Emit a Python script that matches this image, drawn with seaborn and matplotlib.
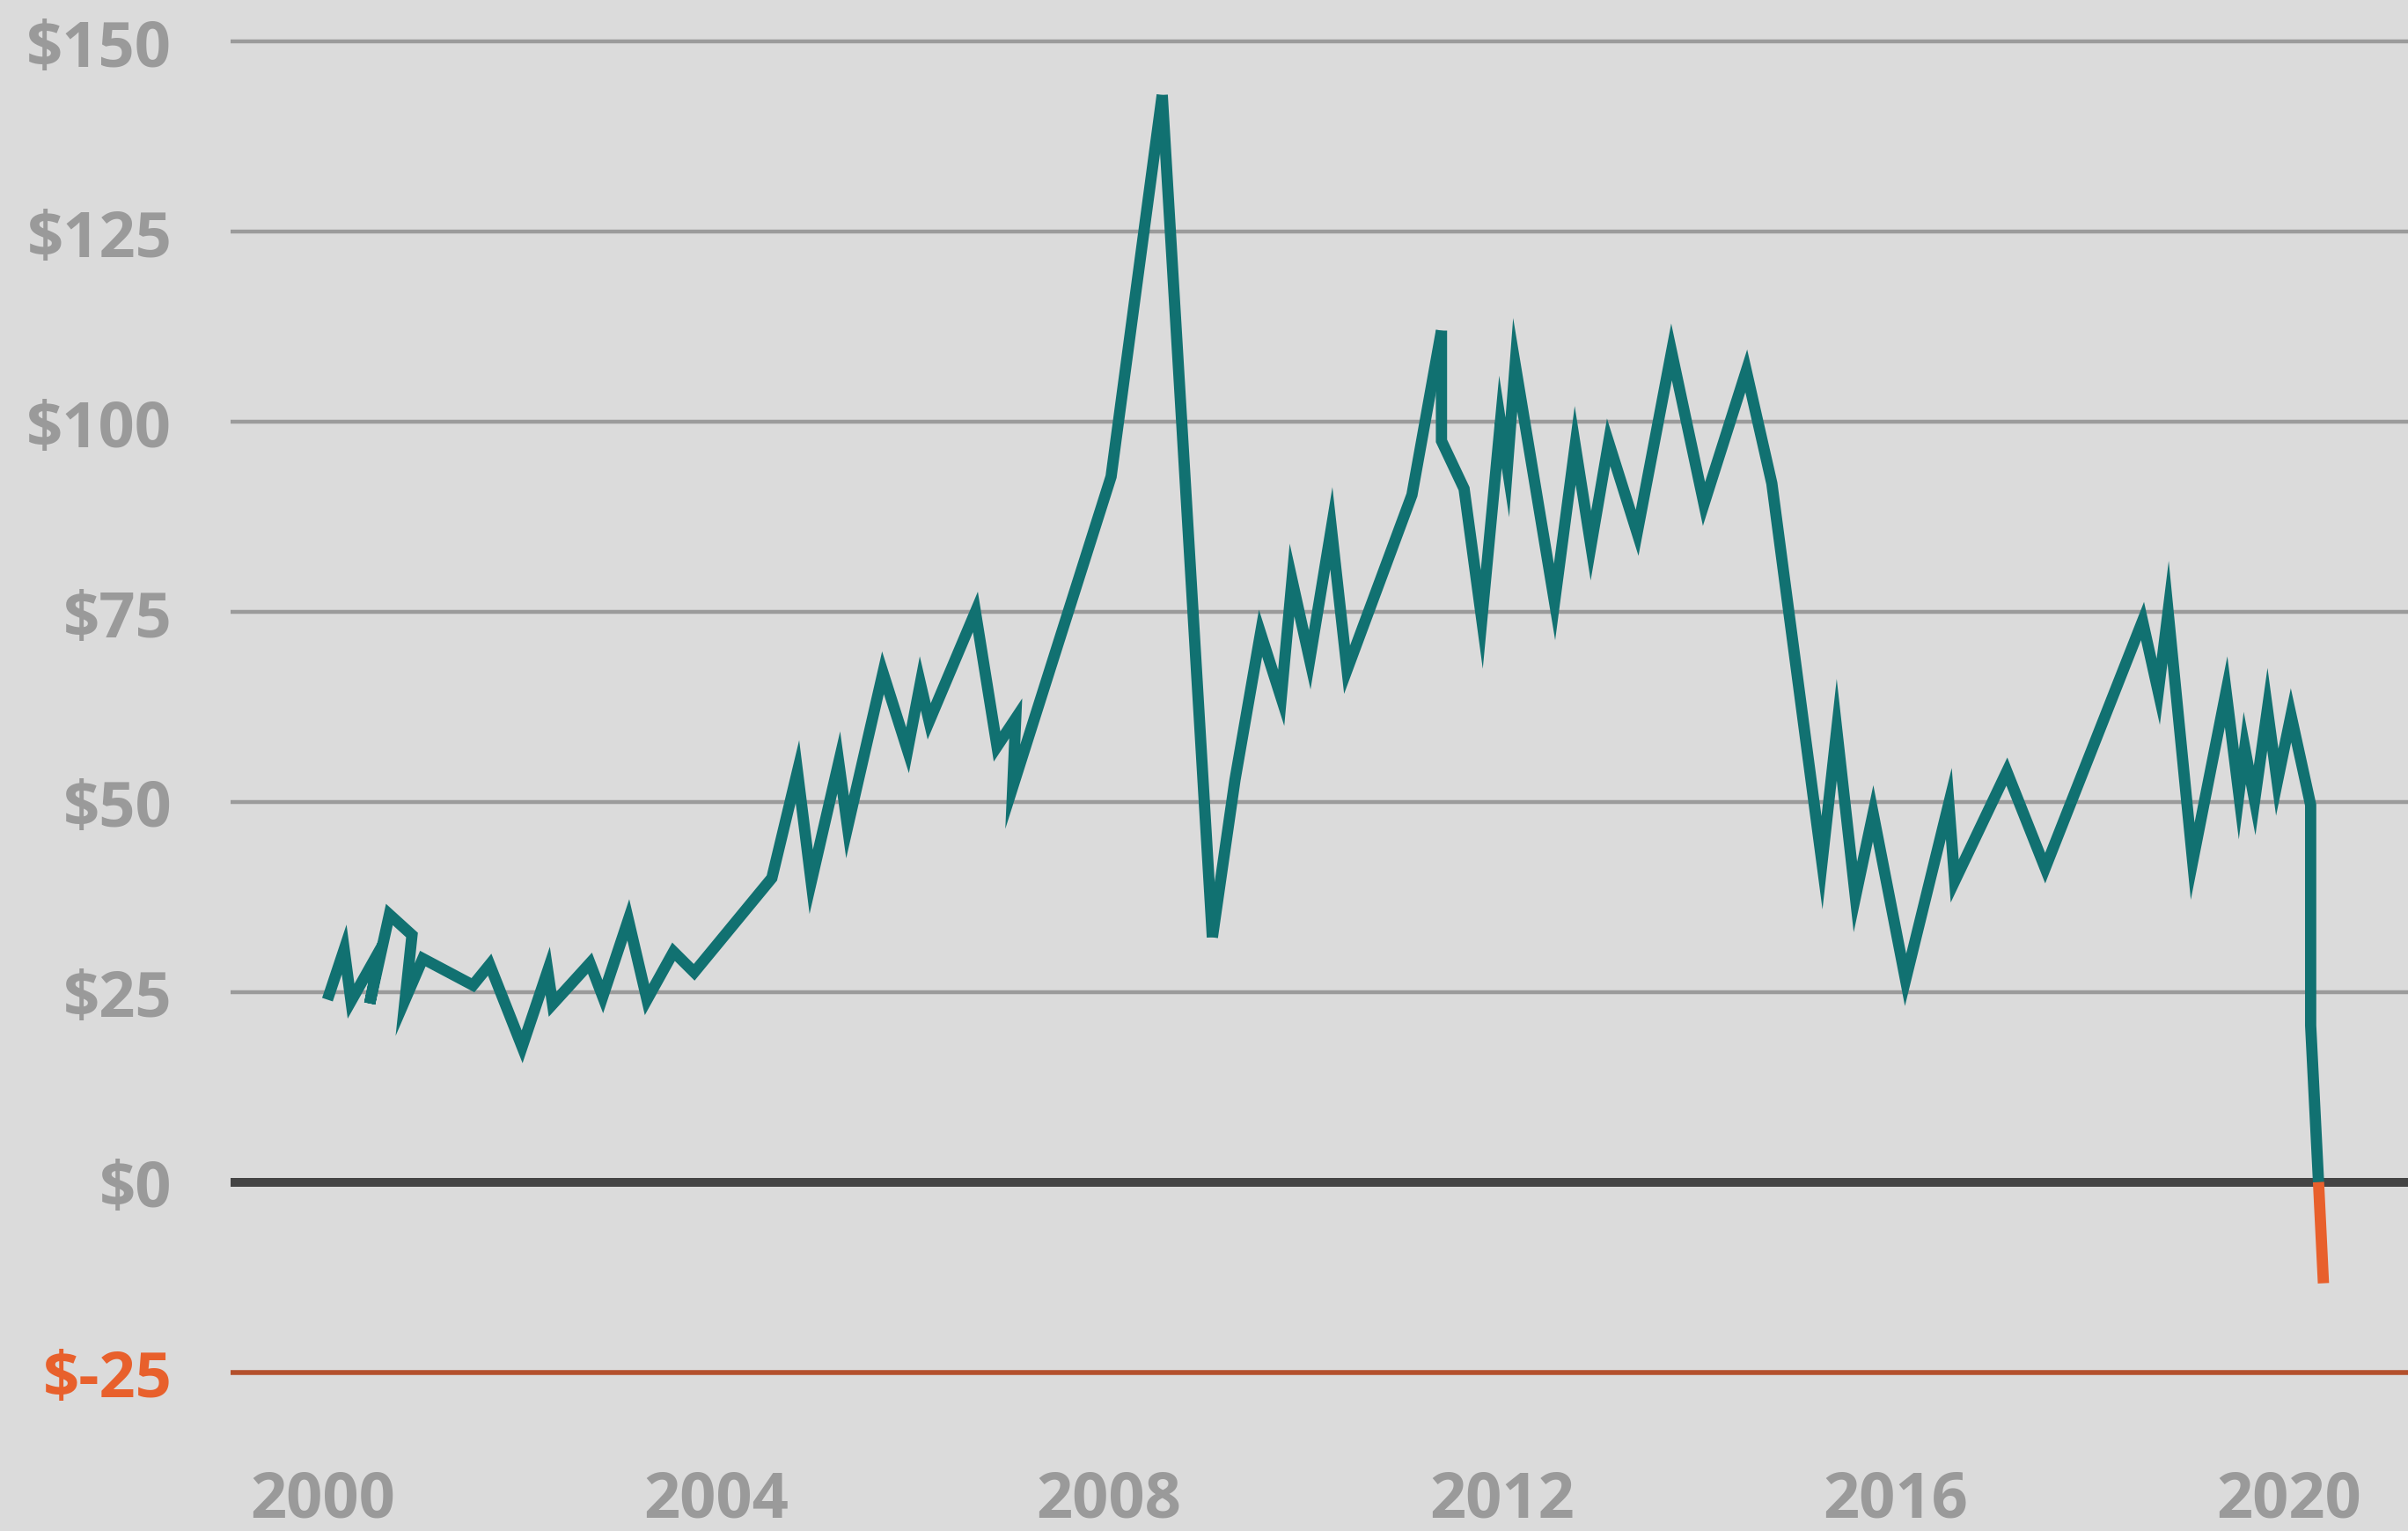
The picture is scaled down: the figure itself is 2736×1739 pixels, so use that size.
import matplotlib
matplotlib.use("Agg")
import matplotlib.pyplot as plt
import seaborn as sns
import pandas as pd

# ---- data ----
years = [2000.05, 2000.22, 2000.29, 2000.59, 2000.48, 2000.68, 2000.91, 2000.84, 2001.02, 2001.53,
         2001.70, 2002.03, 2002.29, 2002.34, 2002.72, 2002.85, 2003.11, 2003.30, 2003.57, 2003.78,
         2004.57, 2004.83, 2004.97, 2005.25, 2005.34, 2005.70, 2005.95, 2006.08, 2006.17, 2006.64,
         2006.86, 2007.05, 2007.02, 2008.02, 2008.54, 2009.05, 2009.28, 2009.54, 2009.75, 2009.86,
         2010.04, 2010.26, 2010.42, 2011.08, 2011.38, 2011.38, 2011.61, 2011.79, 2011.98, 2012.05,
         2012.13, 2012.53, 2012.74, 2012.90, 2013.08, 2013.37, 2013.72, 2014.05, 2014.48, 2014.74,
         2015.25, 2015.40, 2015.59, 2015.77, 2016.10, 2016.54, 2016.60, 2017.13, 2017.52, 2018.51,
         2018.67, 2018.77, 2019.02, 2019.36, 2019.49, 2019.55, 2019.65, 2019.78, 2019.88, 2020.02,
         2020.22, 2020.22, 2020.30]
prices = [24.0, 30.6, 23.8, 30.7, 23.5, 35.2, 32.5, 24.0, 29.4, 25.9,
          28.6, 17.8, 27.8, 23.4, 28.8, 24.4, 34.5, 24.0, 30.3, 27.6,
          40.0, 54.0, 39.5, 55.2, 46.7, 67.0, 56.8, 65.6, 60.6, 75.0,
          57.3, 61.0, 52.0, 92.8, 143.0, 32.2, 52.9, 72.2, 63.7, 79.2,
          68.7, 86.0, 67.4, 90.4, 112.0, 97.5, 91.2, 74.0, 100.0, 94.0,
          107.5, 76.3, 96.9, 83.7, 97.3, 85.4, 109.2, 89.2, 106.7, 91.9,
          42.0, 59.5, 37.5, 48.5, 26.6, 49.8, 39.6, 54.0, 41.3, 73.8,
          64.5, 75.0, 42.2, 64.5, 51.0, 57.1, 50.2, 62.2, 52.6, 61.4,
          49.6, 20.6, 0.0]
neg_years = [2020.30, 2020.35]
neg_prices = [0.0, -13.3]

y_ticks = [-25, 0, 25, 50, 75, 100, 125, 150]
y_labels = ["$-25", "$0", "$25", "$50", "$75", "$100", "$125", "$150"]
x_ticks = [2000, 2004, 2008, 2012, 2016, 2020]
x_labels = ["2000", "2004", "2008", "2012", "2016", "2020"]

# ---- style ----
BG = "#DBDBDB"
TEAL = "#117171"
ORANGE = "#E8602C"
GRID = "#9B9B9B"
LABEL = "#9A9A9A"

sns.set_theme(style="white")
plt.rcParams["font.family"] = ["Open Sans", "DejaVu Sans"]
plt.rcParams["font.weight"] = "bold"

W, H, DPI = 2736, 1740, 200
fig = plt.figure(figsize=(W / DPI, H / DPI), dpi=DPI, facecolor=BG)
left = 262 / W
bottom = (H - 1630) / H
ax = fig.add_axes([left, bottom, 1 - left, 1 - bottom])
ax.set_facecolor(BG)

ax.set_xlim(1999.065, 2021.21)
ax.set_ylim(-33.15, 155.6)

# gridlines
for v in [25, 50, 75, 100, 125, 150]:
    ax.axhline(v, color=GRID, lw=1.6, zorder=1)
ax.axhline(0, color="#444444", lw=3.6, zorder=1)
ax.axhline(-25, color="#B4502C", lw=2.0, zorder=1)

pos = pd.DataFrame({"year": years, "price": prices})
neg = pd.DataFrame({"year": neg_years, "price": neg_prices})

# the very sharp turns are drawn as separate pieces so they end flat (bevelled)
breaks = [0, 34, 35, 44, len(pos) - 1]
n_before = len(ax.lines)
for a, b in zip(breaks[:-1], breaks[1:]):
    sns.lineplot(data=pos.iloc[a:b + 1], x="year", y="price", sort=False, estimator=None,
                 color=TEAL, lw=4.6, ax=ax, zorder=3)
sns.lineplot(data=neg, x="year", y="price", sort=False, estimator=None, color=ORANGE,
             lw=4.6, ax=ax, zorder=3)
for ln in ax.lines[n_before:]:
    ln.set_solid_joinstyle("miter")
    ln.set_solid_capstyle("butt")

ax.set_yticks(y_ticks)
ax.set_yticklabels(y_labels, fontsize=26, fontweight="bold", color=LABEL)
ax.get_yticklabels()[0].set_color(ORANGE)
ax.set_xticks(x_ticks)
ax.set_xticklabels(x_labels, fontsize=26, fontweight="bold", color=LABEL)
ax.tick_params(axis="y", length=0, pad=24)
ax.tick_params(axis="x", length=0, pad=14)
ax.set_xlabel("")
ax.set_ylabel("")
for s in ax.spines.values():
    s.set_visible(False)
ax.grid(False)

fig.savefig("out.png", dpi=DPI, facecolor=BG)
